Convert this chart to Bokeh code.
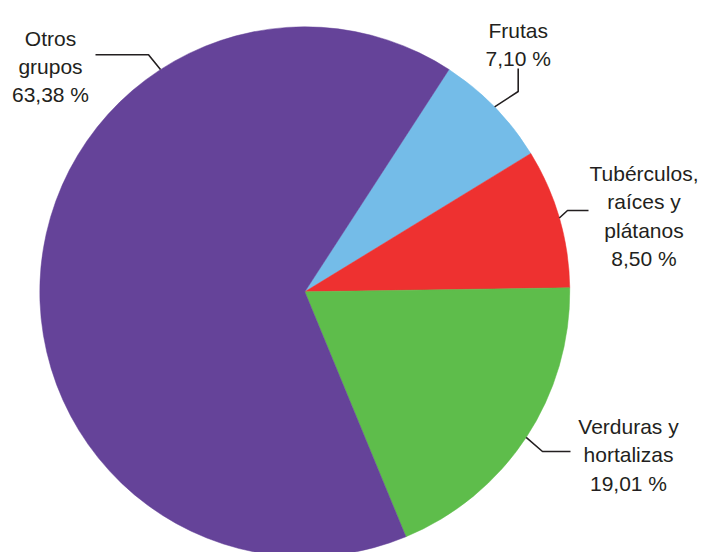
import math
from bokeh.plotting import figure
from bokeh.models import ColumnDataSource, Range1d
from bokeh.core.properties import value
from bokeh.embed import file_html
from bokeh.resources import INLINE

# ---- data ----
categories = ["Frutas", "Tubérculos, raíces y plátanos", "Verduras y hortalizas", "Otros grupos"]
values = [7.10, 8.50, 19.01, 63.38]
label_lines = [["Frutas"], ["Tubérculos,", "raíces y", "plátanos"], ["Verduras y", "hortalizas"], ["Otros", "grupos"]]
colors = ["#74BCE8", "#EE3130", "#5EBD4B", "#654399"]

# ---- layout (image pixel coords -> data: x = X, y = H - Y) ----
W, H = 713, 552
def py(Y):
    return H - Y

cx, cy, R = 304.3, py(291.3), 265.0
base_deg = 0.87  # boundary between Verduras and Tubérculos

# angles (anticlockwise), Verduras -> Tubérculos -> Frutas -> Otros (remainder)
vF, vT, vV, vO = values
a_V0 = base_deg - vV * 3.6
a_V1 = base_deg
a_T1 = a_V1 + vT * 3.6
a_F1 = a_T1 + vF * 3.6
a_O1 = a_V0 + 360.0
starts = [a_T1, a_V1, a_V0, a_F1]
ends = [a_F1, a_T1, a_V1, a_O1]

p = figure(width=W, height=H, output_backend="svg", toolbar_location=None,
           x_range=Range1d(0, W), y_range=Range1d(0, H),
           min_border=0, min_border_left=0, min_border_right=0,
           min_border_top=0, min_border_bottom=0)
p.axis.visible = False
p.grid.visible = False
p.outline_line_color = None
p.background_fill_color = "white"
p.border_fill_color = "white"

src = ColumnDataSource(dict(
    start=[math.radians(a) for a in starts],
    end=[math.radians(a) for a in ends],
    color=colors,
    cat=categories,
))
p.wedge(x=cx, y=cy, radius=R, start_angle="start", end_angle="end",
        direction="anticlock", fill_color="color", line_color="color",
        line_width=0.5, source=src)

# ---- labels ----
def fmt(v):
    return f"{v:.2f}".replace(".", ",") + " %"

label_cx = [517.7, 643.5, 628.0, 50.0]
label_first_baseline = [30.0, 173.0, 426.0, 37.5]
spacing = 28.3

for i in range(4):
    lines = label_lines[i] + [fmt(values[i])]
    xs = [label_cx[i]] * len(lines)
    ys = [py(label_first_baseline[i] + k * spacing) for k in range(len(lines))]
    p.text(x=xs, y=ys, text=lines, text_align="center", text_baseline="alphabetic",
           text_font=value("Liberation Sans"), text_font_size="21px", text_color="#231F20")

# ---- leader lines ----
mid = [(s + e) / 2 for s, e in zip(starts, ends)]
anchor_deg = [mid[0], mid[1], mid[2], 123.0]
def edge(a):
    return cx + R * math.cos(math.radians(a)), cy + R * math.sin(math.radians(a))

leader_pts = [
    [(517.7, py(68)), (517.7, py(91))],
    [(588, py(210)), (567, py(210))],
    [(570, py(451)), (542, py(451))],
    [(95, py(54.3)), (148, py(54.3))],
]
for i in range(4):
    ex, ey = edge(anchor_deg[i])
    pts = leader_pts[i] + [(ex, ey)]
    p.line([q[0] for q in pts], [q[1] for q in pts], line_color="#231F20", line_width=1.6)

open("out.html", "w").write(file_html(p, INLINE))
